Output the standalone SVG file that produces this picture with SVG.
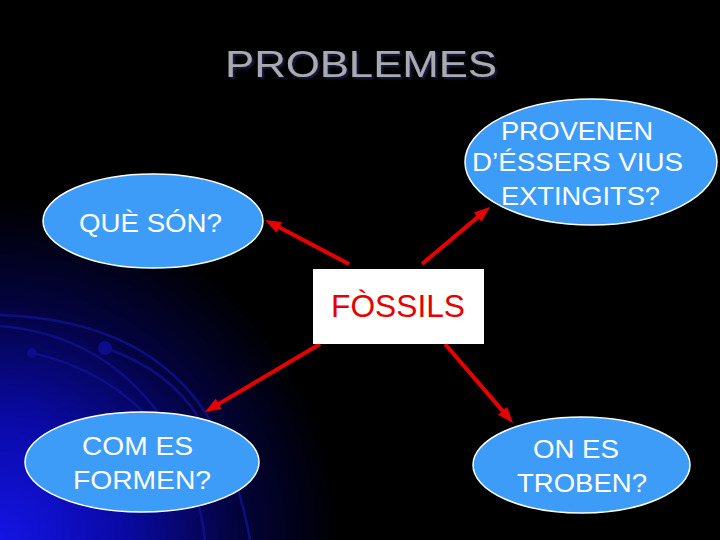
<svg xmlns="http://www.w3.org/2000/svg" width="720" height="540" viewBox="0 0 720 540">
  <defs>
    <radialGradient id="glow" gradientUnits="userSpaceOnUse" cx="0" cy="540" r="340">
      <stop offset="0" stop-color="#1414e6"/>
      <stop offset="0.35" stop-color="#0a0aa8"/>
      <stop offset="0.7" stop-color="#03033c"/>
      <stop offset="1" stop-color="#000000"/>
    </radialGradient>
    <filter id="shadow" x="-5%" y="-20%" width="110%" height="140%">
      <feDropShadow dx="2" dy="2" stdDeviation="0.8" flood-color="#1a1a48"/>
    </filter>
    <marker id="head" markerUnits="userSpaceOnUse" markerWidth="16" markerHeight="12" viewBox="0 0 16 12" refX="6" refY="6" orient="auto">
      <path d="M0,0 L16,6 L0,12 z" fill="#e60000"/>
    </marker>
    <style>
      .bubble { fill: #3d9cf7; stroke: #ffffff; stroke-width: 1.5; }
      .btxt { font-family: "Liberation Sans", Arial, sans-serif; font-size: 26px; fill: #ffffff; }
      .conn { stroke: #e60000; stroke-width: 4; fill: none; marker-end: url(#head); }
      .arc { fill: none; stroke: #10108c; stroke-width: 2.5; opacity: 0.85; }
    </style>
  </defs>

  <rect width="720" height="540" fill="#000000"/>
  <rect width="720" height="540" fill="url(#glow)"/>

  <g id="decor">
    <path class="arc" d="M0,315 Q150,320 210,420 Q240,480 250,540"/>
    <path class="arc" d="M0,326 Q110,335 170,430 Q200,490 205,540"/>
    <path class="arc" d="M32,353 Q110,370 160,430"/>
    <path class="arc" d="M105,348 Q170,370 200,420"/>
    <circle cx="105" cy="348" r="7" fill="#0d0d8c"/>
    <circle cx="32" cy="353" r="5" fill="#0d0d8c"/>
  </g>

  <g id="title">
    <text x="225" y="77" font-family="Liberation Sans, Arial, sans-serif" font-size="36" fill="#a9a9b1" filter="url(#shadow)" textLength="272" lengthAdjust="spacingAndGlyphs">PROBLEMES</text>
  </g>

  <g id="connectors">
    <line class="conn" x1="349" y1="264" x2="273.9" y2="224.6"/>
    <line class="conn" x1="422" y1="264" x2="482.3" y2="213.4"/>
    <line class="conn" x1="320" y1="344" x2="213.6" y2="406.9"/>
    <line class="conn" x1="445" y1="344" x2="506.5" y2="415.4"/>
  </g>

  <g id="fossils">
    <rect x="313" y="269" width="171" height="75" fill="#ffffff"/>
    <text x="331" y="317" font-family="Liberation Sans, Arial, sans-serif" font-size="31" fill="#e60000" textLength="134" lengthAdjust="spacingAndGlyphs">FÒSSILS</text>
  </g>

  <g id="que-son">
    <ellipse class="bubble" cx="153" cy="221" rx="110" ry="47"/>
    <text class="btxt" x="79" y="232" textLength="143" lengthAdjust="spacingAndGlyphs">QUÈ SÓN?</text>
  </g>

  <g id="provenen">
    <ellipse class="bubble" cx="591" cy="162" rx="126" ry="63"/>
    <text class="btxt" x="501" y="140" textLength="152" lengthAdjust="spacingAndGlyphs">PROVENEN</text>
    <text class="btxt" x="472" y="171" textLength="211" lengthAdjust="spacingAndGlyphs">D’ÉSSERS VIUS</text>
    <text class="btxt" x="501" y="205" textLength="159" lengthAdjust="spacingAndGlyphs">EXTINGITS?</text>
  </g>

  <g id="com-es">
    <ellipse class="bubble" cx="142" cy="462" rx="117" ry="50"/>
    <text class="btxt" x="82" y="455" textLength="111" lengthAdjust="spacingAndGlyphs">COM ES</text>
    <text class="btxt" x="73" y="489" textLength="138" lengthAdjust="spacingAndGlyphs">FORMEN?</text>
  </g>

  <g id="on-es">
    <ellipse class="bubble" cx="581.5" cy="465" rx="108.5" ry="48"/>
    <text class="btxt" x="533" y="458" textLength="86" lengthAdjust="spacingAndGlyphs">ON ES</text>
    <text class="btxt" x="517" y="492" textLength="130" lengthAdjust="spacingAndGlyphs">TROBEN?</text>
  </g>
</svg>
